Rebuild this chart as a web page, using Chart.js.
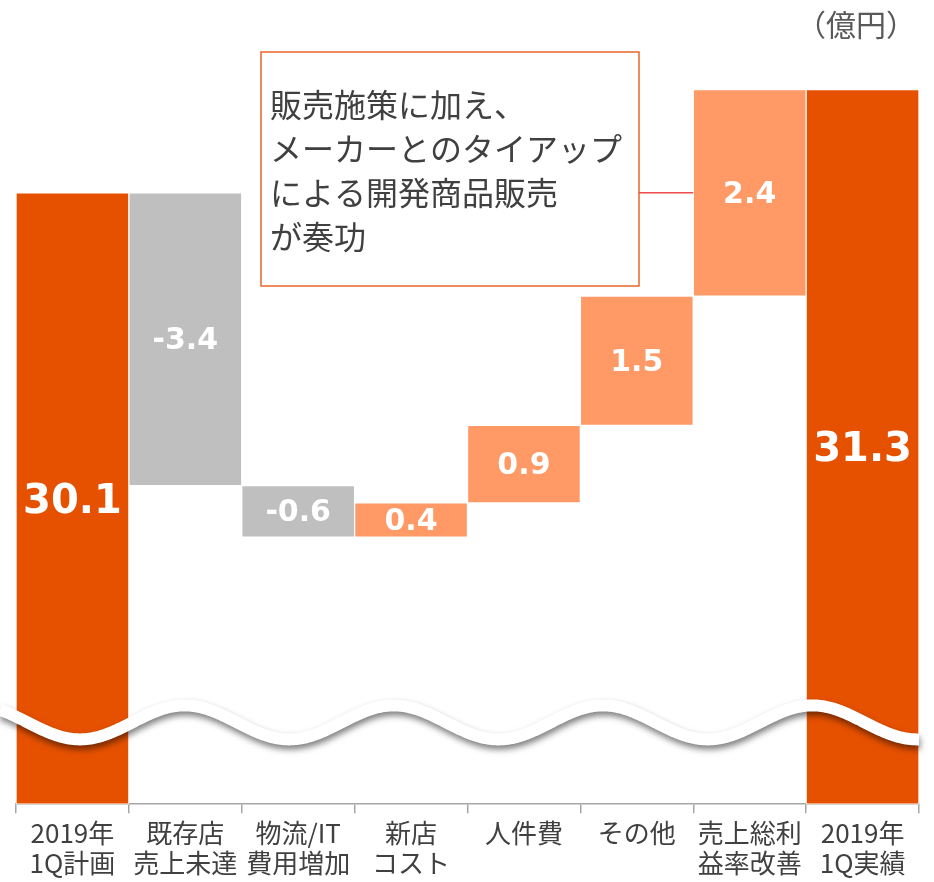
<!DOCTYPE html>
<html>
<head>
<meta charset="utf-8">
<script src="https://cdn.jsdelivr.net/npm/chart.js@4/dist/chart.umd.min.js"></script>
<style>
  html, body { margin: 0; padding: 0; background: #ffffff; }
  #wrap { position: relative; width: 934px; height: 882px; }
</style>
</head>
<body>
<div id="wrap"><canvas id="c"></canvas></div>
<script>
// ---- data ----
const categories = [
  ['2019年', '1Q計画'],
  ['既存店', '売上未達'],
  ['物流/IT', '費用増加'],
  ['新店', 'コスト'],
  ['人件費'],
  ['その他'],
  ['売上総利', '益率改善'],
  ['2019年', '1Q実績']
];
const changes = [30.1, -3.4, -0.6, 0.4, 0.9, 1.5, 2.4, 31.3];
const isTotal = [true, false, false, false, false, false, false, true];
const unitLabel = '（億円）';
const noteLines = ['販売施策に加え、', 'メーカーとのタイアップ', 'による開発商品販売', 'が奏功'];
const noteIndex = 6;
const yMin = 23, yMax = 32.2;

// ---- build floating ranges ----
const ranges = [];
let running = 0;
changes.forEach((v, i) => {
  if (isTotal[i]) { ranges.push([yMin, v]); running = v; }
  else { ranges.push([running, running + v]); running = running + v; }
});
const colors = changes.map((v, i) => isTotal[i] ? '#E65100' : (v < 0 ? '#BFBFBF' : '#FF9966'));

const JP = '"Noto Sans CJK JP", "Noto Sans", sans-serif';

const decor = {
  id: 'decor',
  afterDatasetsDraw(chart) {
    const ctx = chart.ctx, ca = chart.chartArea, ys = chart.scales.y;
    // broken-axis wave
    const yc = ys.getPixelForValue(23.95);
    const amp = 17;
    const x0 = ca.left + 64;
    const period = (ca.right - 2 - x0) / 4;
    ctx.save();
    ctx.beginPath();
    for (let x = 0; x <= ca.right; x += 1) {
      const y = yc + amp * Math.cos(2 * Math.PI * (x - x0) / period);
      if (x === 0) ctx.moveTo(x, y); else ctx.lineTo(x, y);
    }
    ctx.strokeStyle = '#ffffff';
    ctx.lineWidth = 12;
    ctx.lineCap = 'butt';
    ctx.shadowColor = 'rgba(0,0,0,0.5)';
    ctx.shadowBlur = 6;
    ctx.shadowOffsetX = 1;
    ctx.shadowOffsetY = 4;
    ctx.stroke();
    ctx.restore();

    // value labels
    const meta = chart.getDatasetMeta(0);
    ctx.save();
    ctx.fillStyle = '#ffffff';
    ctx.textAlign = 'center';
    ctx.textBaseline = 'middle';
    meta.data.forEach((el, i) => {
      const p = el.getProps(['x', 'y', 'base'], true);
      ctx.font = (isTotal[i] ? 'bold 40px ' : 'bold 30px ') + '"DejaVu Sans", Verdana, sans-serif';
      ctx.fillText(changes[i].toFixed(1), p.x, (p.y + p.base) / 2 + (isTotal[i] ? 4 : 2));
    });
    ctx.restore();
  },
  afterDraw(chart) {
    const ctx = chart.ctx;
    const meta = chart.getDatasetMeta(0);
    // unit label
    ctx.save();
    ctx.font = '30px ' + JP;
    ctx.fillStyle = '#595959';
    ctx.textAlign = 'right';
    ctx.textBaseline = 'middle';
    ctx.fillText(unitLabel, 916, 25);
    ctx.restore();

    // note box
    const bx = 261, by = 52, bw = 378, bh = 234;
    ctx.save();
    ctx.fillStyle = '#ffffff';
    ctx.fillRect(bx, by, bw, bh);
    ctx.strokeStyle = '#E8652A';
    ctx.lineWidth = 1.5;
    ctx.strokeRect(bx, by, bw, bh);
    ctx.font = '32px ' + JP;
    ctx.fillStyle = '#404040';
    ctx.textAlign = 'left';
    ctx.textBaseline = 'middle';
    noteLines.forEach((t, i) => ctx.fillText(t, bx + 9, 105 + i * 44));
    // connector
    const el = meta.data[noteIndex];
    const p = el.getProps(['x', 'y', 'base', 'width'], true);
    const cy = (p.y + p.base) / 2;
    ctx.strokeStyle = '#F04B4B';
    ctx.lineWidth = 1.5;
    ctx.beginPath();
    ctx.moveTo(bx + bw, cy);
    ctx.lineTo(p.x - p.width / 2, cy);
    ctx.stroke();
    ctx.restore();
  }
};

new Chart(document.getElementById('c'), {
  type: 'bar',
  data: {
    labels: categories,
    datasets: [{
      data: ranges,
      backgroundColor: colors,
      borderColor: '#ffffff',
      borderWidth: 1,
      borderSkipped: false,
      barPercentage: 1,
      categoryPercentage: 1
    }]
  },
  options: {
    responsive: true,
    maintainAspectRatio: false,
    animation: false,
    layout: { padding: { top: 12, left: 16, right: 15, bottom: -1 } },
    plugins: { legend: { display: false }, tooltip: { enabled: false } },
    scales: {
      y: { display: false, min: yMin, max: yMax },
      x: {
        grid: {
          display: true, drawOnChartArea: false, drawTicks: true,
          tickLength: 9, color: '#A6A6A6', lineWidth: 1.5, offset: true
        },
        border: { display: true, color: '#A6A6A6', width: 1.5 },
        ticks: {
          color: '#404040',
          font: { family: JP, size: 26, lineHeight: 1.15 },
          padding: 5, maxRotation: 0, minRotation: 0, autoSkip: false
        }
      }
    }
  },
  plugins: [decor]
});
</script>
</body>
</html>
